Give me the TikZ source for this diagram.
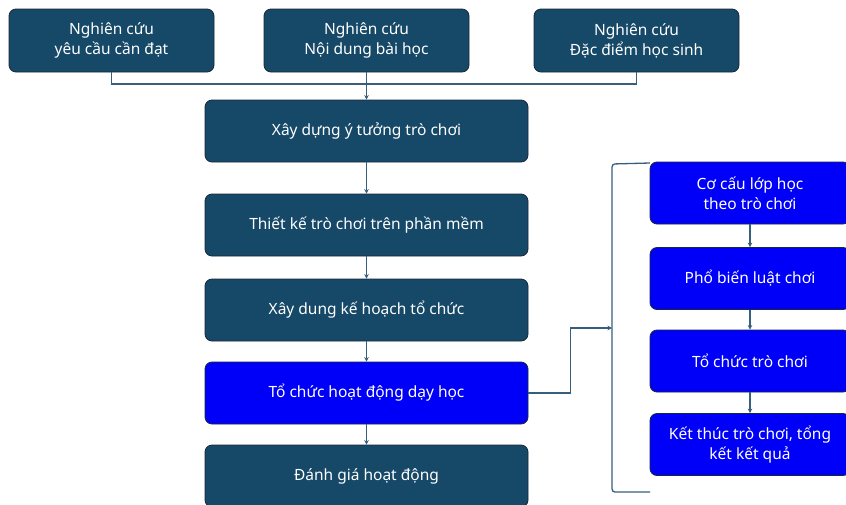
\documentclass[tikz,border=0pt]{standalone}
\usepackage{fontspec}
\setmainfont{Noto Sans}
\usetikzlibrary{arrows.meta}
\definecolor{darkbox}{RGB}{22,72,104}
\definecolor{bluebox}{RGB}{0,0,248}
\definecolor{edgec}{RGB}{25,40,55}
\definecolor{linec}{RGB}{55,95,125}
\begin{document}
\begin{tikzpicture}[x=1pt,y=-1pt,
  basebox/.style={draw=edgec, line width=0.8pt, rounded corners=7pt, text=white, align=center, inner sep=0pt, font=\fontsize{15.5}{20}\selectfont},
  dbox/.style={basebox, fill=darkbox},
  bbox/.style={basebox, fill=bluebox},
  topbox/.style={dbox, minimum width=205pt, minimum height=63pt},
  mainbox/.style={minimum width=323pt, minimum height=62pt},
  sidebox/.style={bbox, minimum width=200pt, minimum height=62pt},
  conn/.style={draw=linec, line width=1.3pt},
  arr/.style={conn, -{Stealth[length=4.5pt,width=4.5pt]}}]
\useasboundingbox (0,0) rectangle (846,504);
\clip (0,0) rectangle (846,504);
\fill[white] (0,0) rectangle (846,504);
% top row
\node[topbox] (n1) at (111.5,40.5) {Nghiên cứu\\yêu cầu cần đạt};
\node[topbox] (n2) at (366.5,40.5) {Nghiên cứu\\Nội dung bài học};
\node[topbox] (n3) at (636.5,40.5) {Nghiên cứu\\Đặc điểm học sinh};
% main column
\node[dbox, mainbox] (m1) at (366.5,131) {Xây dựng ý tưởng trò chơi};
\node[dbox, mainbox] (m2) at (366.5,225) {Thiết kế trò chơi trên phần mềm};
\node[dbox, mainbox] (m3) at (366.5,310) {Xây dung kế hoạch tổ chức};
\node[bbox, mainbox] (m4) at (366.5,393) {Tổ chức hoạt động dạy học};
\node[dbox, mainbox] (m5) at (366.5,476) {Đánh giá hoạt động};
% side column
\node[sidebox] (r1) at (750,193) {Cơ cấu lớp học\\theo trò chơi};
\node[sidebox] (r2) at (750,278.5) {Phổ biến luật chơi};
\node[sidebox] (r3) at (750,361) {Tổ chức trò chơi};
\node[sidebox] (r4) at (750,444.5) {Kết thúc trò chơi, tổng\\kết kết quả};
% bus
\coordinate (bus) at (0,84);
\draw[conn] (n1.south) -- (n1.south |- bus) -- (n3.south |- bus) -- (n3.south);
\draw[arr] (n2.south) -- (m1.north);
\draw[arr] (m1.south) -- (m2.north);
\draw[arr] (m2.south) -- (m3.north);
\draw[arr] (m3.south) -- (m4.north);
\draw[arr] (m4.south) -- (m5.north);
\draw[arr] (r1.south) -- (r2.north);
\draw[arr] (r2.south) -- (r3.north);
\draw[arr] (r3.south) -- (r4.north);
% bracket
\coordinate (bt) at (612,164);
\coordinate (bb) at (612,492);
\coordinate (btR) at (650,163);
\coordinate (bbR) at (650,492);
\coordinate (bm) at (612,328);
\draw[conn, rounded corners=3pt] (btR) -- (bt) -- (bb) -- (bbR);
\draw[arr] (m4.east) -- ++(42,0) |- (bm);
\end{tikzpicture}
\end{document}
